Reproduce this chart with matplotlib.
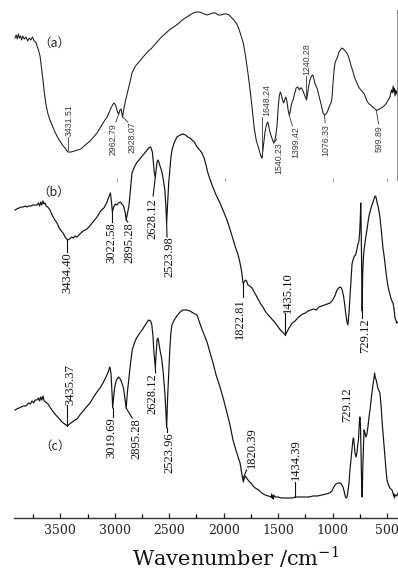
import matplotlib
matplotlib.use("Agg")
import matplotlib.pyplot as plt
from matplotlib.ticker import MultipleLocator

#########################
######### SPECTRA (wavenumber in cm-1, transmittance in offset units)
#########################

wn_a = [3916, 3905, 3895, 3885, 3875, 3865, 3855, 3845, 3830, 3815,
        3800, 3785, 3770, 3755, 3740, 3725, 3714, 3700, 3686, 3672,
        3659, 3645, 3631, 3613, 3595, 3572, 3549, 3526, 3503, 3480,
        3457, 3431, 3400, 3370, 3340, 3310, 3292, 3260, 3227, 3195,
        3163, 3135, 3108, 3090, 3071, 3050, 3035, 3015, 3005, 2990,
        2975, 2963, 2952, 2942, 2928, 2915, 2900, 2880, 2860, 2842,
        2810, 2770, 2740, 2700, 2660, 2620, 2580, 2540, 2500, 2460,
        2420, 2380, 2340, 2310, 2280, 2250, 2220, 2200, 2175, 2150,
        2125, 2100, 2075, 2050, 2025, 2000, 1975, 1950, 1925, 1900,
        1880, 1860, 1840, 1820, 1800, 1780, 1760, 1740, 1720, 1700,
        1685, 1670, 1655, 1648, 1638, 1628, 1621, 1610, 1598, 1590,
        1580, 1570, 1555, 1540, 1530, 1520, 1510, 1500, 1490, 1480,
        1470, 1460, 1450, 1440, 1430, 1420, 1410, 1399, 1390, 1378,
        1364, 1350, 1335, 1320, 1305, 1295, 1285, 1272, 1258, 1245,
        1240, 1230, 1220, 1208, 1195, 1182, 1170, 1158, 1143, 1130,
        1116, 1100, 1088, 1076, 1060, 1045, 1030, 1015, 1006, 995,
        985, 978, 968, 958, 945, 930, 915, 900, 885, 870,
        860, 845, 830, 815, 800, 785, 770, 755, 740, 725,
        710, 695, 680, 665, 650, 635, 620, 600, 585, 570,
        555, 540, 520, 505, 490, 478, 468, 460, 452, 445,
        440, 435, 428, 422, 416, 410, 403, 400]
tr_a = [480, 483, 479, 484, 480, 482, 478, 482, 479, 481,
        477, 480, 478, 481, 477, 476, 472, 468, 462, 450,
        438, 424, 413, 404, 398, 392, 386, 381, 377, 373,
        370, 366, 366, 367, 368, 369, 371, 374, 377, 381,
        385, 390, 395, 398, 401, 406, 410, 414, 415, 412,
        406, 404, 408, 409, 401, 410, 418, 427, 436, 445,
        452, 457, 461, 466, 470, 475, 480, 484, 488, 491,
        494, 498, 501, 503, 505, 506, 506, 505, 504, 503,
        504, 505, 505, 503, 503, 504, 504, 503, 500, 497,
        494, 489, 482, 475, 462, 447, 430, 411, 390, 377,
        372, 366, 361, 360, 370, 380, 386, 392, 396, 394,
        388, 384, 379, 375, 378, 384, 393, 410, 422, 426,
        423, 418, 415, 418, 421, 417, 409, 403, 406, 414,
        418, 424, 430, 431, 428, 430, 430, 427, 423, 419,
        418, 424, 432, 438, 442, 443, 438, 433, 430, 424,
        418, 411, 405, 403, 404, 407, 412, 415, 420, 437,
        450, 455, 458, 460, 465, 468, 470, 469, 467, 465,
        463, 458, 452, 447, 441, 437, 433, 430, 428, 426,
        424, 420, 416, 414, 413, 411, 410, 408, 408, 409,
        410, 411, 413, 415, 418, 420, 424, 428, 425, 432,
        426, 430, 422, 428, 424, 427, 423, 425]

wn_b = [3916, 3900, 3880, 3860, 3840, 3820, 3806, 3790, 3770, 3750,
        3730, 3714, 3700, 3690, 3680, 3670, 3660, 3650, 3640, 3630,
        3615, 3595, 3570, 3550, 3530, 3510, 3490, 3475, 3455, 3434,
        3415, 3395, 3380, 3365, 3347, 3320, 3290, 3255, 3230, 3200,
        3163, 3130, 3100, 3071, 3055, 3040, 3030, 3022, 3010, 2995,
        2980, 2965, 2950, 2935, 2920, 2905, 2895, 2885, 2870, 2855,
        2842, 2820, 2800, 2770, 2740, 2710, 2690, 2670, 2655, 2645,
        2637, 2628, 2620, 2612, 2603, 2595, 2585, 2572, 2560, 2550,
        2540, 2530, 2524, 2515, 2505, 2495, 2485, 2475, 2455, 2430,
        2400, 2375, 2350, 2330, 2310, 2290, 2270, 2245, 2220, 2200,
        2180, 2160, 2150, 2130, 2100, 2070, 2034, 2000, 1970, 1940,
        1915, 1890, 1870, 1850, 1835, 1823, 1812, 1800, 1790, 1777,
        1760, 1740, 1720, 1700, 1680, 1660, 1640, 1620, 1600, 1575,
        1550, 1525, 1500, 1480, 1460, 1435, 1415, 1395, 1370, 1345,
        1320, 1300, 1275, 1250, 1225, 1200, 1175, 1150, 1125, 1100,
        1075, 1050, 1024, 1000, 980, 960, 945, 932, 920, 910,
        900, 890, 880, 870, 860, 850, 841, 830, 822, 813,
        800, 790, 780, 770, 760, 752, 746, 742, 738, 734,
        729, 724, 718, 712, 703, 694, 685, 675, 665, 657,
        645, 630, 620, 610, 602, 593, 580, 566, 555, 547,
        538, 525, 515, 501, 492, 480, 470, 460, 446, 435,
        428, 420, 412, 405, 400]
tr_b = [308, 309, 310, 311, 311, 312, 311, 312, 312, 313,
        313, 313, 315, 312, 316, 313, 317, 314, 315, 312,
        311, 308, 302, 298, 295, 290, 287, 285, 281, 278,
        279, 281, 280, 282, 281, 284, 287, 289, 292, 296,
        301, 307, 310, 316, 321, 325, 316, 306, 311, 314,
        313, 315, 316, 314, 312, 306, 298, 304, 312, 330,
        345, 351, 355, 359, 363, 367, 370, 371, 366, 355,
        345, 341, 348, 356, 358, 356, 352, 348, 342, 335,
        328, 310, 295, 315, 335, 348, 360, 368, 375, 381,
        383, 384, 383, 381, 380, 378, 376, 371, 368, 365,
        360, 352, 347, 340, 331, 323, 315, 306, 298, 288,
        279, 270, 264, 255, 246, 235, 236, 238, 237, 233,
        232, 230, 226, 222, 218, 214, 211, 207, 204, 201,
        198, 195, 191, 188, 186, 183, 187, 191, 195, 197,
        200, 202, 204, 205, 207, 208, 209, 208, 211, 212,
        213, 214, 215, 218, 222, 228, 230, 231, 230, 227,
        222, 214, 205, 197, 193, 205, 221, 240, 254, 258,
        262, 263, 267, 273, 276, 285, 300, 315, 290, 250,
        207, 245, 260, 268, 275, 282, 288, 296, 303, 306,
        311, 316, 319, 322, 321, 316, 310, 301, 290, 280,
        270, 260, 250, 238, 232, 226, 222, 218, 215, 208,
        200, 198, 195, 196, 195]

wn_c = [3916, 3900, 3880, 3860, 3840, 3820, 3806, 3790, 3775, 3760,
        3745, 3730, 3714, 3700, 3690, 3680, 3670, 3659, 3648, 3635,
        3613, 3590, 3570, 3549, 3525, 3500, 3484, 3460, 3435, 3415,
        3390, 3365, 3347, 3320, 3290, 3260, 3227, 3195, 3163, 3135,
        3108, 3085, 3060, 3045, 3035, 3025, 3019, 3010, 3000, 2985,
        2965, 2950, 2935, 2920, 2910, 2895, 2885, 2870, 2855, 2840,
        2820, 2800, 2770, 2750, 2720, 2690, 2670, 2660, 2650, 2640,
        2628, 2620, 2612, 2603, 2595, 2585, 2570, 2555, 2540, 2530,
        2524, 2515, 2505, 2495, 2485, 2475, 2455, 2430, 2400, 2375,
        2340, 2310, 2280, 2245, 2220, 2200, 2175, 2150, 2125, 2100,
        2070, 2034, 2000, 1970, 1940, 1915, 1885, 1850, 1835, 1820,
        1810, 1800, 1790, 1770, 1750, 1730, 1710, 1680, 1650, 1620,
        1590, 1565, 1560, 1555, 1550, 1545, 1540, 1530, 1500, 1470,
        1434, 1400, 1370, 1340, 1300, 1260, 1220, 1180, 1140, 1100,
        1060, 1030, 1006, 990, 970, 950, 932, 920, 905, 895,
        885, 877, 868, 859, 850, 841, 830, 822, 813, 808,
        800, 795, 785, 776, 770, 763, 755, 750, 745, 740,
        735, 729, 722, 712, 703, 694, 685, 675, 665, 657,
        645, 630, 620, 615, 608, 600, 585, 566, 555, 545,
        530, 519, 510, 501, 490, 475, 455, 446, 440, 436,
        432, 428, 418, 410, 400]
tr_c = [108, 109, 110, 111, 112, 112, 113, 115, 114, 117,
        115, 118, 118, 120, 117, 121, 118, 122, 117, 116,
        114, 110, 107, 104, 101, 98, 96, 94, 92, 94,
        96, 98, 99, 103, 107, 111, 115, 121, 126, 130,
        135, 140, 146, 151, 145, 125, 110, 122, 131, 138,
        141, 139, 135, 130, 122, 110, 125, 140, 155, 168,
        175, 180, 185, 188, 193, 198, 197, 193, 183, 165,
        151, 165, 178, 180, 175, 168, 160, 145, 125, 105,
        90, 120, 145, 168, 185, 193, 198, 202, 206, 208,
        208, 207, 205, 203, 195, 189, 182, 175, 165, 156,
        143, 131, 118, 105, 92, 78, 67, 55, 45, 36,
        40, 42, 40, 37, 35, 32, 30, 28, 25, 23,
        22, 21, 24, 20, 22, 19, 23, 21, 21, 20,
        20, 20, 20, 21, 21, 21, 21, 22, 22, 23,
        24, 25, 27, 31, 34, 35, 35, 34, 31, 27,
        22, 20, 21, 27, 35, 48, 60, 68, 79, 80,
        72, 65, 61, 66, 73, 78, 95, 101, 94, 70,
        40, 21, 55, 88, 85, 81, 84, 92, 102, 108,
        120, 133, 140, 145, 140, 138, 130, 125, 112, 95,
        75, 61, 48, 38, 34, 30, 28, 25, 22, 24,
        20, 22, 23, 22, 25]

# peak labels: text, text position (wn, T), pointer line (wn0, T0, wn1, T1)
peaks_a = ["3431.51", "2962.79", "2928.07", "1648.24", "1540.23",
           "1399.42", "1240.28", "1076.33", "599.89"]
pos_a = [(3420, 398), (3016, 379), (2842, 380.5), (1603, 418), (1492, 359.5),
         (1336, 376), (1235, 459), (1061, 378), (574, 379.5)]
ptr_a = [(3431, 368, 3431, 381), (2963, 404, 2990, 396), (2928, 401, 2880, 396),
         (1648, 361, 1648, 401), (1540, 375, 1512, 379), (1399, 403, 1370, 392),
         (1240, 420, 1240, 442), (1076, 403, 1068, 395), (600, 408, 578, 394)]

peaks_b = ["3434.40", "3022.58", "2895.28", "2628.12", "2523.98",
           "1822.81", "1435.10", "729.12"]
pos_b = [(3438, 245.5), (3035, 275.5), (2869, 275.5), (2658, 299), (2502, 261),
         (1850, 199.5), (1410, 225.5), (703, 182.5)]
ptr_b = [(3434, 278, 3434, 266), (3022, 306, 3022, 296), (2895, 298, 2880, 296),
         (2628, 341, 2648, 322), (2524, 295, 2520, 281), (1823, 235, 1823, 221),
         (1435, 183, 1435, 205), (729, 207, 729, 200)]

peaks_c = ["3435.37", "3019.69", "2895.28", "2628.12", "2523.96",
           "1820.39", "1434.39", "729.12"]
pos_c = [(3411, 133), (3035, 80.5), (2805, 79), (2658, 124), (2502, 65.5),
         (1740, 70.5), (1336, 58.5), (868, 113)]
ptr_c = [(3435, 92, 3435, 113), (3020, 110, 3020, 101), (2895, 110, 2840, 100),
         (2628, 151, 2625, 145), (2524, 90, 2524, 86), (1820, 40, 1790, 48),
         (1345, 21, 1345, 36), None]

panel_names = ["（a）", "（b）", "（c）"]
panel_pos = [(3558, 475), (3558, 326), (3549, 72)]

# leftover ticks of the original (a) frame
frame_ticks = [2980, 1988, 997, 501]

#########################
######### PLOT
#########################

plt.rcParams['mathtext.fontset'] = 'custom'
plt.rcParams['mathtext.rm'] = 'DejaVu Serif'

fig = plt.figure(figsize=(3.98, 5.72), dpi=100)
ax = fig.add_axes([14/398, 54/572, 384/398, 518/572])

ax.plot(wn_a, tr_a, color='#1a1a1a', lw=0.75)
ax.plot(wn_b, tr_b, color='#111111', lw=0.85)
ax.plot(wn_c, tr_c, color='#111111', lw=0.85)

# frame edge of spectrum (a)
ax.plot([409, 409], [338, 508], color='#8a8a8a', lw=0.7)
for t in frame_ticks:
    ax.plot([t, t], [337, 339.5], color='#9a9a9a', lw=0.8)

for txt, (x, y), (x0, y0, x1, y1) in zip(peaks_a, pos_a, ptr_a):
    ax.plot([x0, x1], [y0, y1], color='#333333', lw=0.6)
    ax.text(x, y, txt, rotation=90, ha='center', va='center', fontsize=6.3,
            family='Liberation Sans', color='#3a3a3a')

for peaks, pos, ptr in [(peaks_b, pos_b, ptr_b), (peaks_c, pos_c, ptr_c)]:
    for txt, (x, y), p in zip(peaks, pos, ptr):
        if p is not None:
            ax.plot([p[0], p[2]], [p[1], p[3]], color='#111111', lw=0.8)
        ax.text(x, y, txt, rotation=90, ha='center', va='center', fontsize=9,
                family='Liberation Serif', color='#111111')

for name, (x, y) in zip(panel_names, panel_pos):
    ax.text(x, y, name, ha='center', va='center', fontsize=9,
            family=['Noto Sans CJK SC', 'DejaVu Sans'], color='#222233')

ax.set_xlim(3925, 400)
ax.set_ylim(0, 518)
for s in ['left', 'right', 'top']:
    ax.spines[s].set_visible(False)
ax.spines['bottom'].set_linewidth(1.0)
ax.spines['bottom'].set_color('#333333')
ax.set_yticks([])

ax.xaxis.set_major_locator(MultipleLocator(500))
ax.xaxis.set_minor_locator(MultipleLocator(250))
ax.tick_params(axis='x', which='major', direction='in', length=3.5, width=0.9,
               pad=4, labelsize=9, colors='#222222')
ax.tick_params(axis='x', which='minor', direction='in', length=3, width=0.9)
ax.set_xticks([3500, 3000, 2500, 2000, 1500, 1000, 500])
ax.set_xticklabels(['3500', '3000', '2500', '2000', '1500', '1000', '500'],
                   family='DejaVu Serif')

ax.set_xlabel(r'Wavenumber /cm$^{\mathregular{-1}}$', family='DejaVu Serif',
              fontsize=15, color='#111111')
ax.xaxis.set_label_coords((236 - 14) / 384, -0.05)

fig.savefig('out.png', dpi=100)
